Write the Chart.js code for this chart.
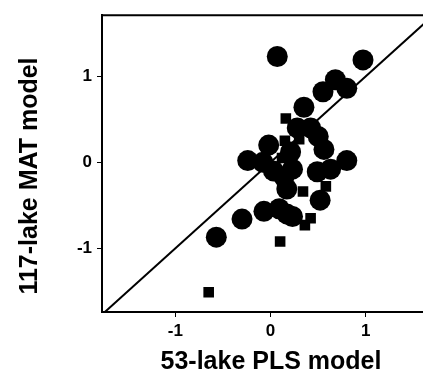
<!DOCTYPE html>
<html>
<head>
<meta charset="utf-8">
<script src="https://cdn.jsdelivr.net/npm/chart.js@4"></script>
<style>
html,body{margin:0;padding:0;background:#fff;}
#wrap{width:423px;height:376px;}
</style>
</head>
<body>
<div id="wrap"><canvas id="c" width="423" height="376"></canvas></div>
<script>
// Large circles (x = 53-lake PLS model, y = 117-lake MAT model)
const circleX = [0.07, 0.97, 0.68, 0.80, 0.55, 0.35, 0.28, 0.42, 0.50, -0.02, 0.56, -0.24, -0.08, 0.80, 0.21, 0.23, 0.14, 0.17, 0.49, 0.63, 0.52, -0.07, 0.09, 0.23, -0.30, -0.57, 0.03, 0.17];
const circleY = [1.23, 1.19, 0.96, 0.86, 0.82, 0.64, 0.40, 0.40, 0.30, 0.20, 0.15, 0.02, 0.00, 0.02, 0.12, -0.08, -0.17, -0.31, -0.11, -0.08, -0.44, -0.57, -0.54, -0.63, -0.66, -0.87, -0.10, -0.60];
// Small squares
const squareX = [0.16, 0.15, 0.30, 0.12, 0.34, 0.58, 0.42, 0.36, 0.10, -0.65];
const squareY = [0.51, 0.25, 0.27, 0.05, -0.34, -0.28, -0.65, -0.73, -0.92, -1.51];
// 1:1 line
const lineX = [-2, 2];
const lineY = [-2, 2];
// Ticks
const xTicks = [-1, 0, 1];
const yTicks = [-1, 0, 1];
const xTitle = '53-lake PLS model';
const yTitle = '117-lake MAT model';

const toPts = (xs, ys) => xs.map((x, i) => ({x: x, y: ys[i]}));
const TITLE_FONT = 'bold 25px "Liberation Sans", Arial, sans-serif';

const deco = {
  id: 'deco',
  afterDraw(chart) {
    const a = chart.chartArea, ctx = chart.ctx;
    ctx.save();
    // top frame line
    ctx.strokeStyle = '#000';
    ctx.lineWidth = 2;
    ctx.beginPath();
    ctx.moveTo(a.left - 1, a.top);
    ctx.lineTo(a.right, a.top);
    ctx.stroke();
    // axis titles
    ctx.fillStyle = '#000';
    ctx.font = TITLE_FONT;
    ctx.textAlign = 'center';
    ctx.textBaseline = 'alphabetic';
    ctx.fillText(xTitle, 271, 369);
    ctx.translate(37, 176);
    ctx.rotate(-Math.PI / 2);
    ctx.fillText(yTitle, 0, 0);
    ctx.restore();
  }
};

new Chart(document.getElementById('c'), {
  type: 'scatter',
  data: {
    datasets: [
      {data: toPts(lineX, lineY), showLine: true, borderColor: '#000', borderWidth: 2, pointRadius: 0, fill: false, order: 0},
      {data: toPts(circleX, circleY), pointStyle: 'circle', pointRadius: 10.5, backgroundColor: '#000', borderWidth: 0, order: 1},
      {data: toPts(squareX, squareY), pointStyle: 'rect', pointRadius: 7.5, backgroundColor: '#000', borderWidth: 0, order: 2}
    ]
  },
  options: {
    responsive: false,
    animation: false,
    events: [],
    layout: {autoPadding: false, padding: {top: 12, right: 0, left: 0, bottom: 0}},
    plugins: {legend: {display: false}, tooltip: {enabled: false}},
    scales: {
      x: {
        type: 'linear', min: -1.77, max: 1.6,
        afterBuildTicks: s => { s.ticks = xTicks.map(v => ({value: v})); },
        afterFit: s => { s.height = 64; },
        grid: {drawOnChartArea: false, drawTicks: true, tickLength: 5, color: '#000', lineWidth: 1},
        border: {display: true, color: '#000', width: 2},
        ticks: {color: '#000', font: {family: 'Liberation Sans', size: 17, weight: 'bold'}, padding: 4, maxRotation: 0, callback: v => String(v)},
        title: {display: false}
      },
      y: {
        type: 'linear', min: -1.74, max: 1.71,
        afterBuildTicks: s => { s.ticks = yTicks.map(v => ({value: v})); },
        afterFit: s => { s.width = 102; },
        grid: {drawOnChartArea: false, drawTicks: true, tickLength: 5, color: '#000', lineWidth: 1},
        border: {display: true, color: '#000', width: 2},
        ticks: {color: '#000', font: {family: 'Liberation Sans', size: 17, weight: 'bold'}, padding: 5, callback: v => String(v)},
        title: {display: false}
      }
    }
  },
  plugins: [deco]
});
</script>
</body>
</html>
